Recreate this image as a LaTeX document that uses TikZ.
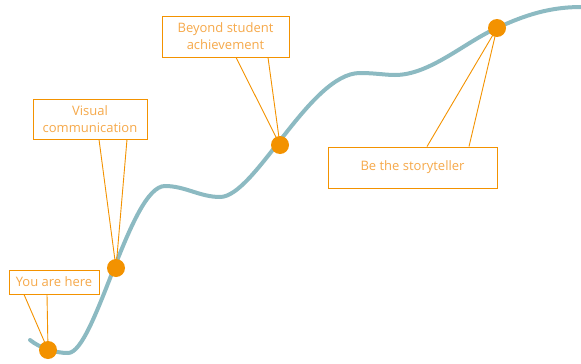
\documentclass[tikz,border=0pt]{standalone}
\usepackage{fontspec}
\setmainfont{Open Sans}
\usetikzlibrary{backgrounds}
\definecolor{pathblue}{HTML}{8CBAC2}
\definecolor{dotorange}{HTML}{F39200}
\definecolor{textorange}{HTML}{F6A94A}

\begin{document}
\begin{tikzpicture}[x=1pt, y=-1pt,
        milestone/.style={circle, fill=dotorange, minimum size=18pt, inner sep=0pt},
        callout/.style={draw=dotorange, fill=white, line width=0.9pt, text=textorange, align=center, inner sep=0pt, font=\fontsize{13}{17}\selectfont},
        stem/.style={dotorange, line width=0.9pt}]
        \useasboundingbox (0,0) rectangle (581,364);
        % milestones on the road
        \node[milestone] (here) at (48,350) {};
        \node[milestone] (visual) at (116,268) {};
        \node[milestone] (beyond) at (280,145) {};
        \node[milestone] (story) at (497,28) {};
        % callouts
        \node[callout, minimum width=90pt, minimum height=24pt] (herelabel) at (54,282) {You are here};
        \node[callout, minimum width=114pt, minimum height=40pt] (visuallabel) at (90,119) {Visual\\communication};
        \node[callout, minimum width=127pt, minimum height=41pt] (beyondlabel) at (225.5,36.5) {Beyond student\\achievement};
        \node[callout, minimum width=169pt, minimum height=41pt] (storylabel) at (412.5,167.5) {Be the storyteller};
        \begin{scope}[on background layer]
            \draw[pathblue, line width=4pt, line cap=round] (30,340) .. controls (40,348) and (55,353) .. (68,353)
                .. controls (95,353) and (130,186) .. (165,186)
                .. controls (185,186) and (200,197) .. (220,197)
                .. controls (255,197) and (310,73) .. (360,73)
                .. controls (375,73) and (385,75) .. (395,75)
                .. controls (430,75) and (465,42) .. (497,28)
                .. controls (525,15) and (550,7) .. (581,7);
            \draw[stem] ([xshift=-30pt]herelabel.south) -- (here.center) -- ([xshift=-7pt]herelabel.south);
            \draw[stem] ([xshift=9pt]visuallabel.south) -- (visual.center) -- ([xshift=37pt]visuallabel.south);
            \draw[stem] ([xshift=10.5pt]beyondlabel.south) -- (beyond.center) -- ([xshift=42.5pt]beyondlabel.south);
            \draw[stem] ([xshift=14.5pt]storylabel.north) -- (story.center) -- ([xshift=56.5pt]storylabel.north);
        \end{scope}
    \end{tikzpicture}
\end{document}
